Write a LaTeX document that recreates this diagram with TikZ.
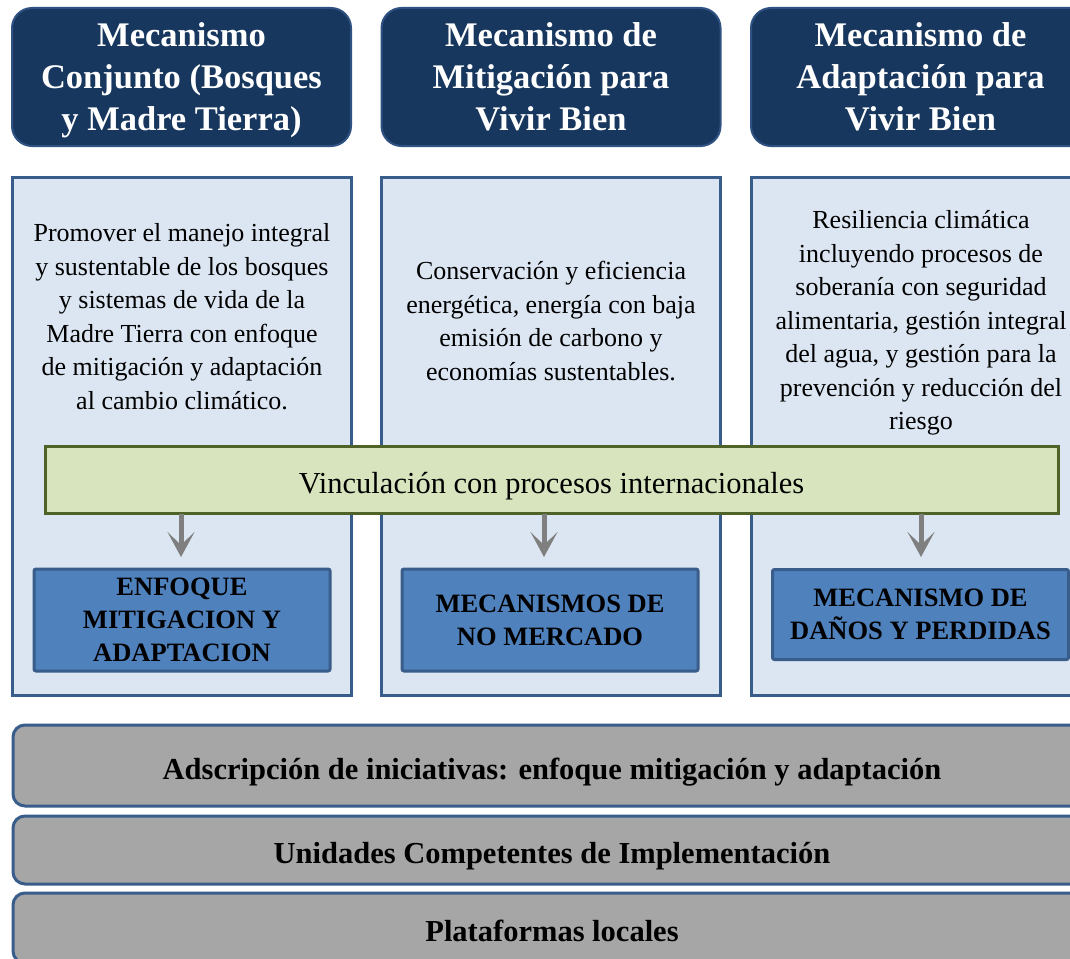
\documentclass[tikz,border=0pt]{standalone}
\usepackage{fontspec}
\setmainfont{Liberation Serif}
\usetikzlibrary{arrows.meta}
\definecolor{hdrfill}{HTML}{17375E}
\definecolor{hdrdraw}{HTML}{2F5283}
\definecolor{panelfill}{HTML}{DCE6F2}
\definecolor{bluedraw}{HTML}{385D8A}
\definecolor{greenfill}{HTML}{D7E4BD}
\definecolor{greendraw}{HTML}{4F6228}
\definecolor{boxfill}{HTML}{4F81BD}
\definecolor{grayfill}{HTML}{A6A6A6}
\definecolor{arrowgray}{HTML}{7F7F7F}
\tikzset{
  hdr/.style={draw=hdrdraw, line width=2pt, fill=hdrfill, rounded corners=20pt,
    minimum width=339pt, minimum height=138pt, text=white, align=center,
    text depth=0pt, font=\fontsize{34.5}{42}\selectfont\bfseries},
  panel/.style={draw=bluedraw, line width=3pt, fill=panelfill,
    minimum width=339pt, minimum height=518pt},
  ptext/.style={align=center, text depth=0pt, font=\fontsize{26}{33.5}\selectfont, text=black},
  vinc/.style={draw=greendraw, line width=3pt, fill=greenfill,
    minimum width=1013pt, minimum height=67pt},
  vtext/.style={text depth=0pt, font=\fontsize{30.5}{34}\selectfont},
  mbox/.style={draw=bluedraw, line width=3pt, fill=boxfill, rounded corners=2pt,
    minimum width=296pt, align=center, text depth=0pt,
    font=\fontsize{26.5}{33}\selectfont\bfseries},
  gbar/.style={draw=bluedraw, line width=3pt, fill=grayfill, rounded corners=12pt,
    minimum width=1078pt},
  gtext/.style={text depth=0pt, font=\fontsize{30.5}{34}\selectfont\bfseries},
  garrow/.style={draw=arrowgray, line width=5pt,
    -{Stealth[length=25pt,width=27pt,inset=13pt]}}
}
\begin{document}
\begin{tikzpicture}[x=1pt,y=-1pt]
\clip (0,0) rectangle (1070,958);
\fill[white] (0,0) rectangle (1070,958);
% headers
\node[hdr] (h1) at (181.5,77) {Mecanismo\\Conjunto (Bosques\\y Madre Tierra)};
\node[hdr] (h2) at (551,77) {Mecanismo de\\Mitigación para\\Vivir Bien};
\node[hdr] (h3) at (920.5,77) {Mecanismo de\\Adaptación para\\Vivir Bien};
% panels
\node[panel] (p1) at (181.5,436) {};
\node[panel] (p2) at (550.5,436) {};
\node[panel] (p3) at (920.5,436) {};
% panel texts
\node[ptext] (t1) at (182,316.5) {Promover el manejo integral\\y sustentable de los bosques\\y sistemas de vida de la\\Madre Tierra con enfoque\\de mitigación y adaptación\\al cambio climático.};
\node[ptext] (t2) at (551,321) {Conservación y eficiencia\\energética, energía con baja\\emisión de carbono y\\economías sustentables.};
\node[ptext] (t3) at (921,320) {Resiliencia climática\\incluyendo procesos de\\soberanía con seguridad\\alimentaria, gestión integral\\del agua, y gestión para la\\prevención y reducción del\\riesgo};
% green bar
\node[vinc] (v) at (551.5,479.5) {};
\node[vtext] (vt) at (551.5,482.5) {Vinculación con procesos internacionales};
% blue boxes
\node[mbox, minimum height=102pt] (b1) at (182,620) {ENFOQUE\\MITIGACION Y\\ADAPTACION};
\node[mbox, minimum height=102pt] (b2) at (550,620) {MECANISMOS DE\\NO MERCADO};
\node[mbox, minimum height=90pt] (b3) at (920.5,614.5) {MECANISMO DE\\DAÑOS Y PERDIDAS};
% arrows
\coordinate (a1) at (181,514);
\coordinate (a2) at (544,514);
\coordinate (a3) at (921,514);
\draw[garrow] (a1) -- (a1 |- 0,557);
\draw[garrow] (a2) -- (a2 |- 0,557);
\draw[garrow] (a3) -- (a3 |- 0,557);
% gray bars
\node[gbar, minimum height=81pt] (g1) at (552,765.5) {};
\node[gtext] (g1t) at (552,768.5) {Adscripción de iniciativas: enfoque mitigación y adaptación};
\node[gbar, minimum height=68pt] (g2) at (552,850) {};
\node[gtext] (g2t) at (552,853) {Unidades Competentes de Implementación};
\node[gbar, minimum height=70pt] (g3) at (552,928) {};
\node[gtext] (g3t) at (552,931) {Plataformas locales};
\end{tikzpicture}
\end{document}
